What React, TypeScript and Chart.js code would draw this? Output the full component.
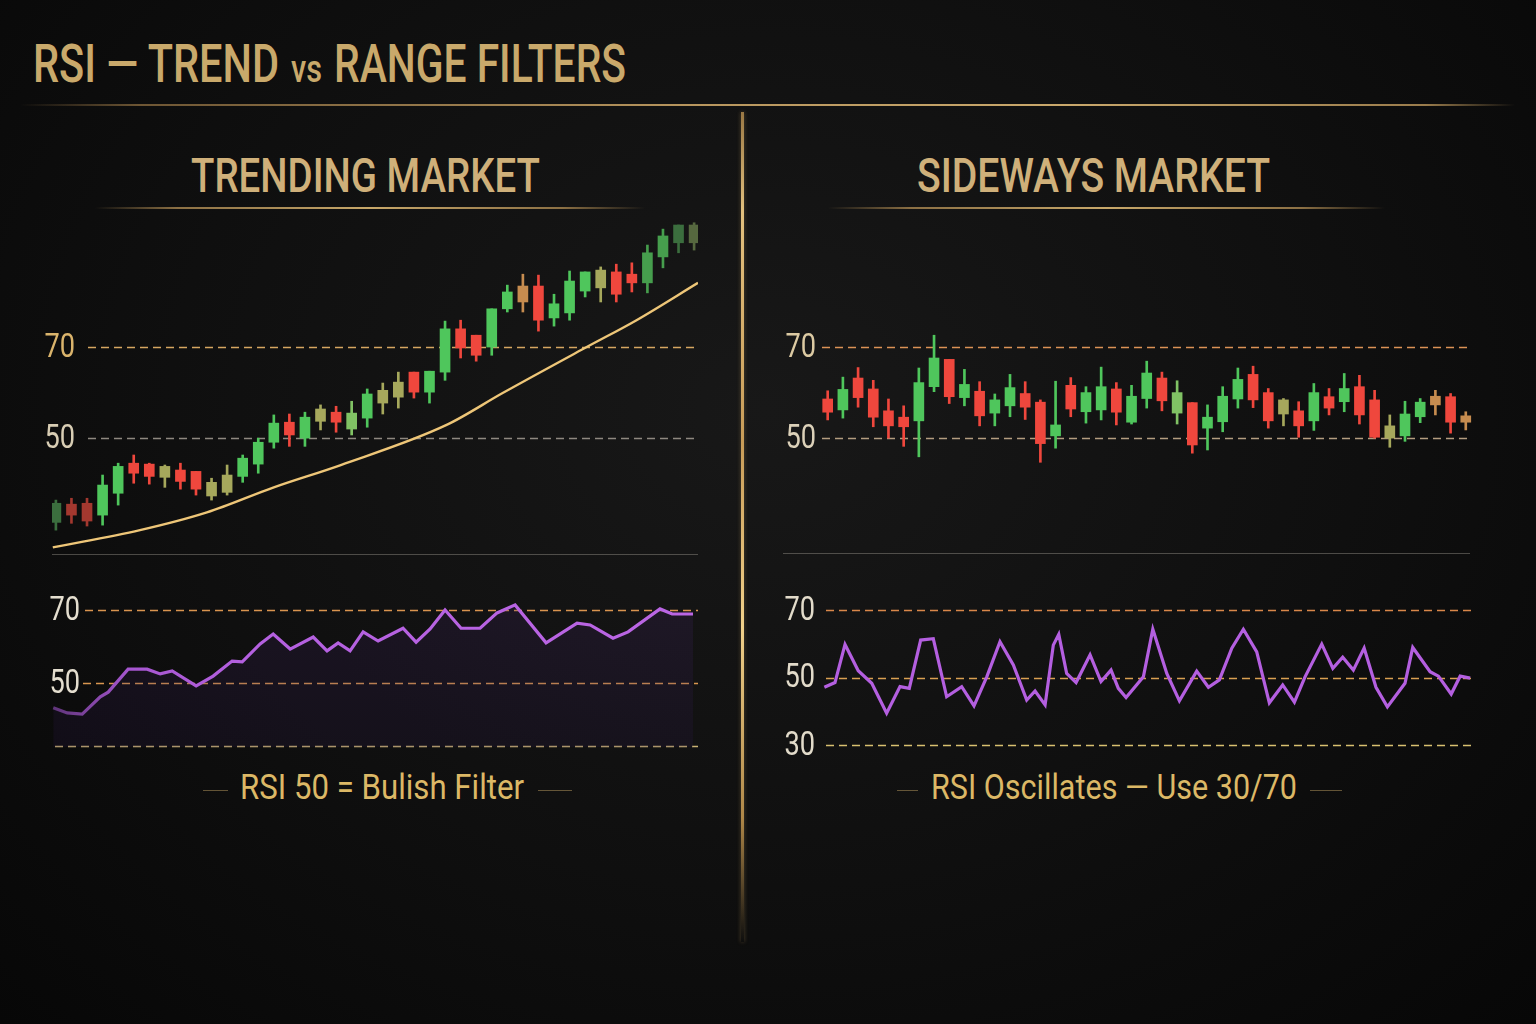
import React, { useEffect, useRef } from "react";
import { Chart, registerables } from "chart.js";
Chart.register(...registerables);

const FONT = "Roboto, 'Open Sans', sans-serif";

// ---------- Trending market: candles (open/high/low/close) ----------
const trendOpen = [31.5, 35.5, 35.7, 33.1, 37.9, 44.5, 44.3, 41.4, 43.0, 42.7, 37.3, 38.1, 41.6, 44.3, 49.1, 53.5, 50.0, 53.7, 55.7, 52.0, 54.4, 57.7, 59.0, 64.5, 60.1, 64.5, 74.0, 72.6, 70.0, 78.4, 79.9, 83.4, 76.4, 77.5, 82.3, 83.0, 86.5, 86.0, 84.1, 89.8, 92.9, 92.9];
const trendHigh = [36.4, 36.8, 36.8, 41.9, 44.5, 46.3, 44.5, 44.1, 44.5, 42.7, 41.2, 44.1, 46.3, 50.0, 55.1, 55.3, 55.7, 57.3, 57.0, 58.1, 60.8, 62.1, 64.5, 64.5, 64.7, 75.7, 75.9, 72.6, 78.4, 83.6, 86.0, 85.8, 81.6, 86.7, 86.5, 87.6, 88.2, 88.5, 92.4, 95.9, 96.8, 97.3];
const trendLow = [29.8, 31.3, 30.7, 30.9, 35.3, 40.1, 39.9, 39.2, 38.8, 37.5, 36.4, 37.5, 40.3, 42.3, 47.8, 48.2, 48.2, 51.8, 51.3, 50.7, 52.4, 55.3, 56.6, 58.8, 57.7, 62.7, 67.6, 66.9, 68.2, 77.7, 77.7, 73.5, 74.6, 75.9, 81.0, 79.9, 79.9, 82.1, 81.9, 87.4, 90.7, 91.3];
const trendClose = [35.7, 33.1, 31.8, 39.7, 43.8, 42.3, 41.6, 43.8, 40.5, 38.8, 40.3, 41.9, 45.6, 49.1, 53.3, 50.7, 54.6, 56.4, 53.5, 55.5, 59.7, 60.5, 62.3, 60.1, 64.7, 74.0, 69.8, 68.2, 78.4, 82.1, 83.4, 75.9, 79.5, 84.5, 86.5, 86.9, 81.6, 84.1, 90.7, 94.4, 96.8, 96.8];
const trendTints = ["dg", "dr", "dr", "g", "g", "r", "r", "o", "r", "r", "o", "o", "g", "g", "g", "r", "g", "o", "r", "lg", "g", "o", "o", "r", "g", "g", "r", "r", "g", "g", "t", "r", "g", "g", "g", "o", "r", "r", "mg", "mg", "dg", "do"];

// moving average (bar position, value)
const trendMaX = [-0.2, 5.4, 9.7, 14.0, 18.3, 25.1, 28.7, 34.1, 37.3, 41.25];
const trendMaY = [26.0, 29.8, 33.7, 39.2, 44.1, 52.9, 59.9, 70.0, 75.9, 84.1];

// RSI (bar position, value)
const trendRsiX = [-0.17, 0.73, 1.69, 2.85, 3.36, 4.64, 5.86, 6.70, 7.47, 9.01, 10.10, 11.32, 11.97, 13.12, 13.96, 15.05, 16.53, 17.42, 18.13, 18.90, 19.74, 20.70, 22.30, 23.14, 24.04, 25.00, 26.03, 27.25, 28.34, 29.50, 31.49, 33.48, 34.32, 35.79, 36.76, 38.81, 39.59, 40.93];
const trendRsiY = [43.2, 41.8, 41.5, 46.2, 47.5, 53.8, 53.8, 52.5, 53.3, 49.2, 51.9, 56.0, 55.8, 60.7, 63.4, 59.3, 62.6, 58.8, 61.0, 58.8, 64.0, 61.5, 65.0, 61.2, 64.8, 70.0, 65.0, 65.0, 69.2, 71.4, 61.0, 66.4, 65.9, 62.3, 64.0, 70.3, 68.9, 68.9];

// ---------- Sideways market ----------
const rangeOpen = [58.6, 56.2, 63.2, 60.8, 56.0, 54.6, 53.8, 61.3, 67.3, 58.9, 60.3, 55.5, 57.1, 59.8, 57.9, 50.5, 61.6, 55.8, 56.2, 60.8, 53.5, 58.7, 63.2, 55.5, 57.8, 52.2, 53.6, 58.6, 64.0, 60.0, 55.3, 56.0, 53.8, 59.1, 58.0, 61.3, 58.4, 50.0, 50.5, 54.7, 57.3, 59.1, 53.5];
const rangeHigh = [60.4, 63.4, 65.5, 62.7, 58.6, 57.1, 65.4, 72.6, 67.3, 65.1, 62.4, 59.7, 64.0, 62.4, 58.4, 62.5, 63.3, 61.3, 65.6, 62.2, 61.6, 66.9, 64.5, 62.6, 57.8, 57.3, 61.3, 65.4, 65.8, 60.9, 58.7, 58.0, 62.0, 60.9, 64.2, 63.8, 60.5, 55.1, 58.1, 58.7, 60.5, 59.8, 55.8];
const rangeLow = [54.0, 54.4, 56.8, 52.5, 50.0, 48.2, 45.9, 60.2, 57.6, 57.1, 52.7, 52.7, 54.7, 54.1, 44.7, 47.8, 54.7, 53.3, 54.0, 52.9, 53.1, 56.6, 56.0, 53.1, 46.7, 47.4, 51.4, 56.6, 56.7, 52.2, 52.7, 50.2, 51.7, 55.1, 55.8, 53.1, 50.0, 48.0, 49.3, 53.4, 55.1, 51.1, 51.8];
const rangeClose = [55.7, 60.7, 58.9, 54.6, 52.7, 52.5, 62.2, 67.6, 59.1, 61.8, 54.9, 58.4, 61.1, 56.8, 48.8, 52.9, 56.4, 60.0, 61.3, 55.7, 59.2, 64.3, 58.2, 60.0, 48.5, 54.6, 59.2, 62.9, 58.4, 53.8, 58.4, 52.7, 60.0, 56.6, 60.9, 55.1, 50.2, 52.7, 55.3, 57.9, 59.2, 53.5, 54.9];
const rangeTints = ["r", "g", "r", "r", "r", "r", "g", "g", "r", "g", "r", "g", "g", "r", "r", "g", "r", "g", "g", "r", "g", "g", "r", "lg", "r", "g", "g", "g", "r", "r", "o", "r", "g", "r", "g", "r", "r", "o", "g", "g", "t", "r", "t"];

const rangeRsiX = [-0.22, 0.48, 1.14, 2.01, 2.90, 3.88, 4.76, 5.37, 6.12, 6.95, 7.83, 8.82, 9.63, 10.47, 11.34, 12.22, 13.10, 13.65, 14.31, 14.85, 15.21, 15.73, 16.35, 17.27, 17.99, 18.65, 19.13, 19.64, 20.78, 21.40, 22.32, 23.15, 24.29, 25.06, 25.78, 26.60, 27.36, 28.24, 29.07, 29.95, 30.72, 31.42, 32.52, 33.25, 33.90, 34.60, 35.31, 36.09, 36.84, 38.00, 38.51, 39.65, 40.20, 41.04, 41.63, 42.29];
const rangeRsiY = [47.1, 48.5, 59.8, 52.0, 48.3, 39.4, 47.3, 46.8, 61.1, 61.5, 44.3, 47.3, 41.6, 50.2, 60.6, 53.7, 43.3, 46.0, 41.9, 59.6, 62.8, 51.2, 48.5, 56.7, 48.8, 52.2, 46.8, 44.1, 50.2, 64.3, 51.2, 43.1, 51.9, 47.1, 49.3, 58.7, 64.3, 57.6, 42.5, 47.8, 42.7, 50.2, 59.9, 52.7, 56.0, 52.2, 58.7, 47.1, 41.3, 48.3, 58.9, 51.7, 50.4, 45.1, 50.4, 49.8];

// levels / tick labels
const priceLevels = [70, 50];
const trendRsiLevels = [70, 50];
const rangeRsiLevels = [70, 50, 30];

const PALETTE: Record<string, string> = {
  g: "#4fc65c",
  lg: "#80c264",
  mg: "#469e4d",
  dg: "#3b6e3e",
  r: "#ef473d",
  dr: "#a3382f",
  o: "#a6a85c",
  do: "#56683f",
  t: "#c68c4f",
};

const refLines = {
  id: "refLines",
  beforeDatasetsDraw(chart: any, _a: any, opts: any) {
    const { ctx, chartArea } = chart;
    const ys = chart.scales.y;
    (opts.lines || []).forEach((l: any) => {
      const py = Math.round(ys.getPixelForValue(l.value)) + 0.5;
      ctx.save();
      ctx.strokeStyle = l.color;
      ctx.lineWidth = l.width ?? 1.4;
      ctx.setLineDash(l.dash ?? [8, 5]);
      ctx.beginPath();
      ctx.moveTo(chartArea.left + (l.start ?? 0), py);
      ctx.lineTo(chartArea.right, py);
      ctx.stroke();
      ctx.restore();
    });
  },
  afterDraw(chart: any, _a: any, opts: any) {
    const { ctx, chartArea } = chart;
    const ys = chart.scales.y;
    (opts.lines || []).forEach((l: any) => {
      if (!l.label) return;
      const py = ys.getPixelForValue(l.value);
      ctx.save();
      ctx.translate(chartArea.left + opts.labelRight, py + 1);
      ctx.scale(0.8, 1);
      ctx.font = `400 ${opts.fontSize || 34}px ${FONT}`;
      ctx.fillStyle = l.labelColor;
      ctx.textAlign = "right";
      ctx.textBaseline = "middle";
      ctx.fillText(l.label, 0, 0);
      ctx.restore();
    });
  },
};

function candleSets(open: number[], high: number[], low: number[], close: number[], tints: string[]) {
  const colors = tints.map((t) => PALETTE[t]);
  return [
    {
      type: "bar",
      data: open.map((_o, i) => ({ x: i, y: [low[i], high[i]] })),
      backgroundColor: colors,
      barThickness: 2,
      grouped: false,
      borderWidth: 0,
      borderSkipped: false,
      order: 2,
    },
    {
      type: "bar",
      data: open.map((o, i) => ({ x: i, y: [o, close[i]] })),
      backgroundColor: colors,
      barThickness: 10,
      grouped: false,
      borderWidth: 0,
      borderSkipped: false,
      minBarLength: 2,
      order: 1,
    },
  ];
}

function baseOptions(xMin: number, xMax: number, yMin: number, yMax: number, pad: any, lines: any[], labelRight: number, fontSize: number) {
  return {
    animation: false,
    responsive: false,
    events: [],
    layout: { padding: pad },
    scales: {
      x: { type: "linear", min: xMin, max: xMax, display: false, offset: false, grid: { display: false } },
      y: { type: "linear", min: yMin, max: yMax, display: false, grid: { display: false } },
    },
    plugins: {
      legend: { display: false },
      tooltip: { enabled: false },
      refLines: { lines, labelRight, fontSize },
    },
  };
}

function trendPriceConfig(): any {
  const lines = [
    { value: priceLevels[0], color: "#d6a661", label: String(priceLevels[0]), labelColor: "#dab46c", start: 36 },
    { value: priceLevels[1], color: "#8e8880", label: String(priceLevels[1]), labelColor: "#d8cdb4", start: 36 },
  ];
  return {
    type: "bar",
    data: {
      datasets: [
        ...candleSets(trendOpen, trendHigh, trendLow, trendClose, trendTints),
        {
          type: "line",
          data: trendMaX.map((x, i) => ({ x, y: trendMaY[i] })),
          borderColor: "#eec678",
          borderWidth: 2.4,
          pointRadius: 0,
          cubicInterpolationMode: "monotone",
          order: 0,
        },
      ],
    },
    options: baseOptions(-0.25, 41.25, 25, 99, { left: 22, right: 4, top: 0, bottom: 0 }, lines, 23, 34),
    plugins: [refLines],
  };
}

function rangePriceConfig(): any {
  const lines = [
    { value: priceLevels[0], color: "#dc9256", label: String(priceLevels[0]), labelColor: "#dccaa3", start: 0 },
    { value: priceLevels[1], color: "#b39d80", label: String(priceLevels[1]), labelColor: "#dcd1b9", start: 0 },
  ];
  return {
    type: "bar",
    data: { datasets: candleSets(rangeOpen, rangeHigh, rangeLow, rangeClose, rangeTints) },
    options: baseOptions(-0.375, 42.41, 25, 99, { left: 42, right: 4, top: 0, bottom: 0 }, lines, -6, 34),
    plugins: [refLines],
  };
}

function purpleStroke(ctx: any) {
  const chart = ctx.chart;
  const a = chart.chartArea;
  if (!a) return "#b25fdc";
  const g = chart.ctx.createLinearGradient(a.left, 0, a.right, 0);
  g.addColorStop(0, "#5e3478");
  g.addColorStop(0.12, "#a656d0");
  g.addColorStop(0.3, "#b460e0");
  g.addColorStop(1, "#bb66e4");
  return g;
}

function trendRsiConfig(): any {
  const lines = [
    { value: trendRsiLevels[0], color: "#d9944f", label: String(trendRsiLevels[0]), labelColor: "#e4decf", start: 33 },
    { value: trendRsiLevels[1], color: "#d9964f", label: String(trendRsiLevels[1]), labelColor: "#e4decf", start: 31 },
    { value: 32.7, color: "#c9b273", start: 3 },
  ];
  return {
    type: "line",
    data: {
      datasets: [
        {
          data: trendRsiX.map((x, i) => ({ x, y: trendRsiY[i] })),
          borderColor: purpleStroke,
          borderWidth: 3.2,
          pointRadius: 0,
          tension: 0,
          fill: "start",
          backgroundColor: (ctx: any) => {
            const chart = ctx.chart;
            const a = chart.chartArea;
            if (!a) return "rgba(60,35,95,0.2)";
            const g = chart.ctx.createLinearGradient(0, a.top, 0, a.bottom);
            g.addColorStop(0, "rgba(75,40,115,0.2)");
            g.addColorStop(1, "rgba(45,25,75,0.2)");
            return g;
          },
        },
      ],
    },
    options: baseOptions(-0.25, 41.25, 32.47, 76.85, { left: 22, right: 4, top: 0, bottom: 18 }, lines, 28, 34),
    plugins: [refLines],
  };
}

function rangeRsiConfig(): any {
  const lines = [
    { value: rangeRsiLevels[0], color: "#d9874a", label: String(rangeRsiLevels[0]), labelColor: "#e2dbca", start: 4 },
    { value: rangeRsiLevels[1], color: "#d9a052", label: String(rangeRsiLevels[1]), labelColor: "#e2dbca", start: 4 },
    { value: rangeRsiLevels[2], color: "#d8c070", label: String(rangeRsiLevels[2]), labelColor: "#e2dbca", start: 4 },
  ];
  return {
    type: "line",
    data: {
      datasets: [
        {
          data: rangeRsiX.map((x, i) => ({ x, y: rangeRsiY[i] })),
          borderColor: "#b45fe0",
          borderWidth: 3.2,
          pointRadius: 0,
          tension: 0,
        },
      ],
    },
    options: baseOptions(-0.375, 42.41, 29.41, 77.41, { left: 42, right: 4, top: 0, bottom: 18 }, lines, -7, 34),
    plugins: [refLines],
  };
}

function ChartCanvas({ left, top, width, height, build }: any) {
  const ref = useRef<HTMLCanvasElement>(null);
  useEffect(() => {
    const chart = new Chart(ref.current as HTMLCanvasElement, build());
    return () => chart.destroy();
  }, []);
  return <canvas ref={ref} width={width} height={height} style={{ position: "absolute", left, top, width, height }} />;
}

let measureCtx: CanvasRenderingContext2D | null = null;
function measure(text: string, font: string) {
  if (!measureCtx) measureCtx = document.createElement("canvas").getContext("2d");
  measureCtx!.font = font;
  return measureCtx!.measureText(text).width;
}

// text stretched to a given width (condensed look)
function FitText({ left, top, width, size, weight, color, text }: any) {
  const w = measure(text, `${weight} ${size}px ${FONT}`);
  const sx = width / w;
  return (
    <div
      style={{
        position: "absolute",
        left,
        top,
        fontFamily: FONT,
        fontWeight: weight,
        fontSize: size,
        lineHeight: 1,
        color,
        whiteSpace: "nowrap",
        transform: `scaleX(${sx})`,
        transformOrigin: "0 0",
      }}
    >
      {text}
    </div>
  );
}

function Rule({ left, top, width, height = 1, background, shadow }: any) {
  return <div style={{ position: "absolute", left, top, width, height, background, boxShadow: shadow }} />;
}

const titleGold = "#c9a96b";
const capLine = "rgba(185,155,95,0.5)";
const headRule = "linear-gradient(90deg, rgba(150,120,70,0) 0%, #8c7044 15%, #c8a86a 50%, #8c7044 85%, rgba(150,120,70,0) 100%)";

export default function App() {
  return (
    <div
      style={{
        position: "absolute",
        left: 0,
        top: 0,
        width: 1536,
        height: 1024,
        overflow: "hidden",
        background: "radial-gradient(ellipse at 50% 40%, #181818 0%, #0f0f0f 55%, #070707 100%)",
      }}
    >
      <FitText left={33} top={38} width={247} size={53} weight={500} color={titleGold} text="RSI — TREND" />
      <FitText left={291} top={50} width={31} size={39} weight={500} color={titleGold} text="vs" />
      <FitText left={334} top={38} width={292} size={53} weight={500} color={titleGold} text="RANGE FILTERS" />
      <Rule left={20} top={104} width={1495} height={2} background="linear-gradient(90deg, rgba(120,95,55,0) 0%, #6e5634 8%, #b8965e 45%, #c9a86c 70%, #9a7c4c 94%, rgba(120,95,55,0) 100%)" />
      <Rule
        left={741}
        top={112}
        width={3}
        height={830}
        background="linear-gradient(180deg, #9a7844 0%, #e2c07e 12%, #c89c58 40%, #f0d08a 62%, #b08848 85%, rgba(120,90,50,0) 100%)"
        shadow="0 0 4px rgba(210,170,100,0.35)"
      />

      <FitText left={191} top={151} width={349} size={49} weight={500} color="#cfb07a" text="TRENDING MARKET" />
      <FitText left={917} top={151} width={353} size={49} weight={500} color="#cfb07a" text="SIDEWAYS MARKET" />
      <Rule left={95} top={207} width={550} height={2} background={headRule} />
      <Rule left={828} top={207} width={557} height={2} background={headRule} />

      <ChartCanvas left={30} top={215} width={672} height={337} build={trendPriceConfig} />
      <ChartCanvas left={780} top={215} width={696} height={337} build={rangePriceConfig} />

      <Rule left={52} top={554} width={646} background="rgba(170,165,155,0.4)" />
      <Rule left={783} top={553} width={687} background="rgba(170,165,155,0.4)" />

      <ChartCanvas left={30} top={585} width={672} height={180} build={trendRsiConfig} />
      <ChartCanvas left={780} top={585} width={696} height={180} build={rangeRsiConfig} />

      <Rule left={203} top={790} width={25} background={capLine} />
      <FitText left={240} top={770} width={284} size={35} weight={400} color="#dcb866" text="RSI 50 = Bulish Filter" />
      <Rule left={538} top={790} width={34} background={capLine} />

      <Rule left={897} top={790} width={21} background={capLine} />
      <FitText left={931} top={770} width={366} size={35} weight={400} color="#dcb866" text="RSI Oscillates — Use 30/70" />
      <Rule left={1310} top={790} width={32} background={capLine} />
    </div>
  );
}
